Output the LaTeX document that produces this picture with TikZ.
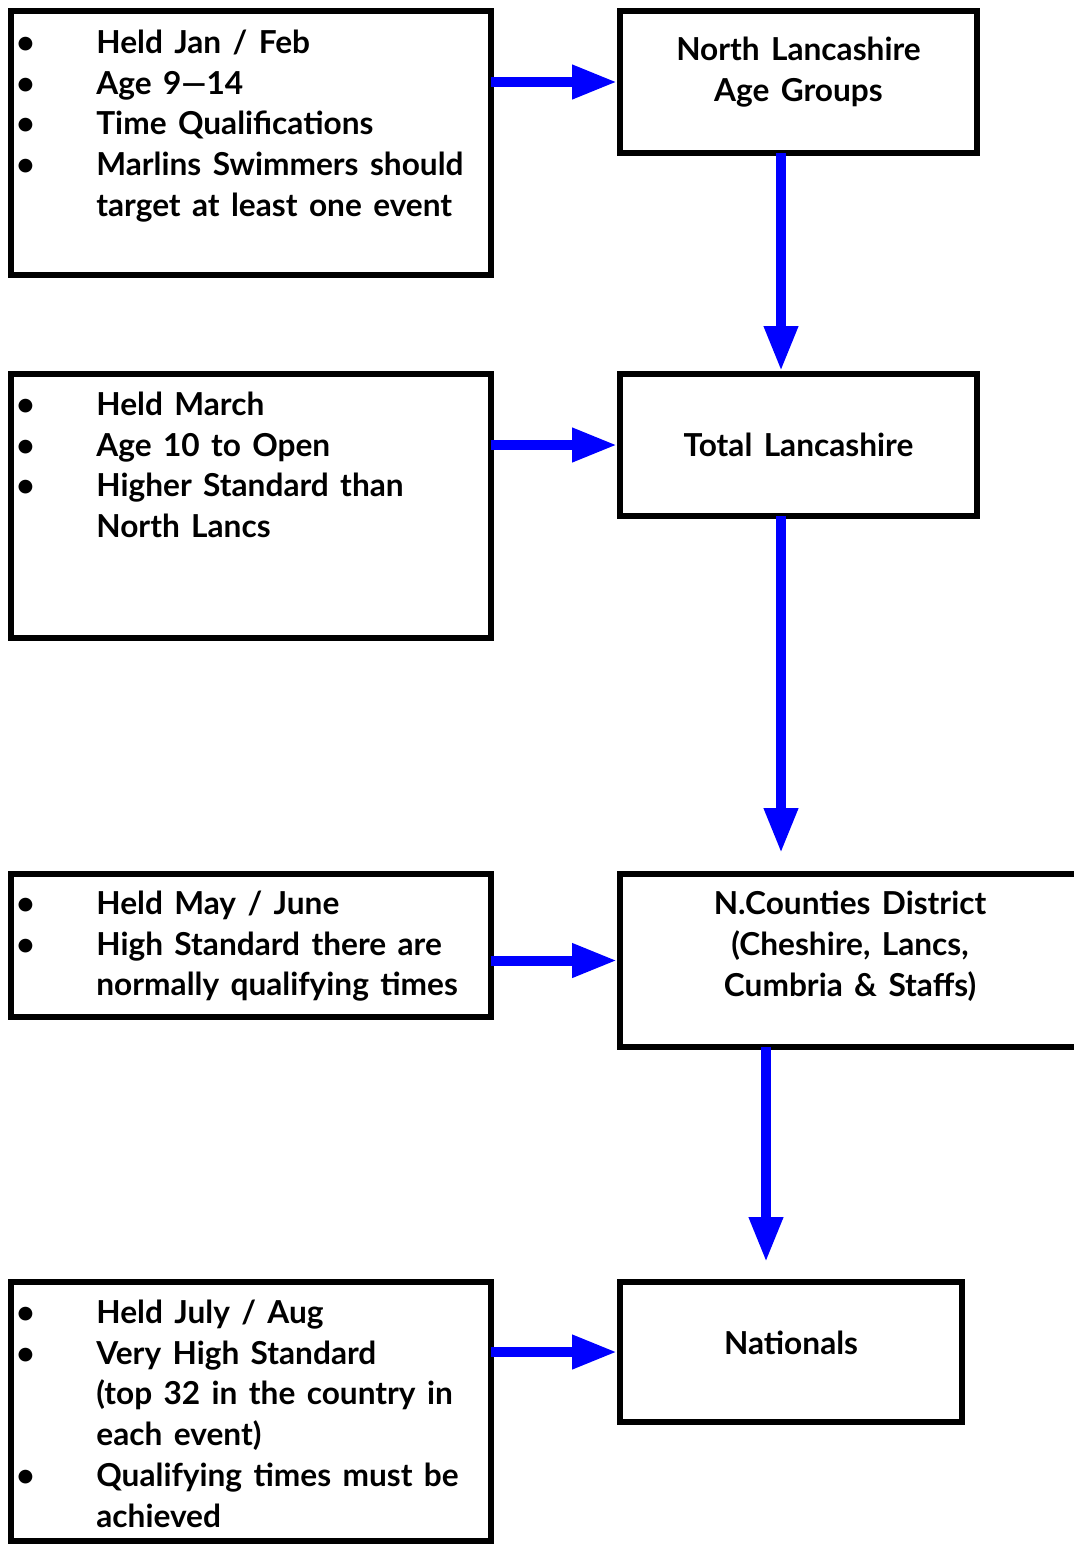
\documentclass[tikz,border=0pt]{standalone}
\usepackage{fontspec}
\setmainfont{Lato}
\usepackage{tikz}
\usetikzlibrary{arrows.meta}
\newcommand{\boxfont}{\bfseries\fontsize{18}{23.25}\selectfont\spaceskip=0.36em plus 0.1em minus 0.05em}
\tikzstyle{infobox} = [rectangle,draw=black,line width=0.12cm,fill=white,minimum width=9.6cm,inner sep=0pt,outer sep=0pt]
\tikzstyle{stagebox} = [rectangle,draw=black,line width=0.12cm,fill=white,inner sep=0pt,outer sep=0pt]
\tikzstyle{infotext} = [anchor=north west,align=left,inner sep=0pt,font=\boxfont]
\tikzstyle{stagetext} = [align=center,inner sep=0pt,font=\boxfont]
\tikzstyle{flow} = [blue,line width=0.2cm,-{Triangle[length=0.9cm,width=0.64cm]}]
\newcommand{\bitem}{\makebox[1.6cm][l]{•}\strut}
\newcommand{\bcont}{\hspace*{1.6cm}\strut}

\begin{document}
\begin{tikzpicture}[x=0.02cm,y=-0.02cm]
\useasboundingbox (0,0) rectangle (1074,1545);
\node (info1) [infobox,minimum height=5.28cm] at (251,143) {};
\node (nla) [stagebox,minimum width=7.14cm,minimum height=2.84cm] at (798.5,82) {};
\node (info2) [infobox,minimum height=5.28cm] at (251,506) {};
\node (tl) [stagebox,minimum width=7.14cm,minimum height=2.84cm] at (798.5,445) {};
\node (info3) [infobox,minimum height=2.86cm] at (251,945.5) {};
\node (ncd) [stagebox,minimum width=9.2cm,minimum height=3.46cm] at (850,960.5) {};
\node (info4) [infobox,minimum height=5.18cm] at (251,1411.5) {};
\node (nat) [stagebox,minimum width=6.84cm,minimum height=2.8cm] at (791,1352) {};

\node (info1txt) [infotext] at ([xshift=0.1cm,yshift=-0.266cm]info1.north west) {\bitem Held Jan / Feb\\ \bitem Age 9—14\\ \bitem Time Qualifications\\ \bitem Marlins Swimmers should\\ \bcont target at least one event};
\node (info2txt) [infotext] at ([xshift=0.1cm,yshift=-0.246cm]info2.north west) {\bitem Held March\\ \bitem Age 10 to Open\\ \bitem Higher Standard than\\ \bcont North Lancs};
\node (info3txt) [infotext] at ([xshift=0.1cm,yshift=-0.226cm]info3.north west) {\bitem Held May / June\\ \bitem High Standard there are\\ \bcont normally qualifying times};
\node (info4txt) [infotext] at ([xshift=0.1cm,yshift=-0.246cm]info4.north west) {\bitem Held July / Aug\\ \bitem Very High Standard\\ \bcont (top 32 in the country in\\ \bcont each event)\\ \bitem Qualifying times must be\\ \bcont achieved};

\node (nlatxt) [stagetext] at ([yshift=0.2cm]nla.center) {North Lancashire\\ Age Groups};
\node (tltxt) [stagetext] at (tl.center) {Total Lancashire};
\node (ncdtxt) [stagetext] at ([yshift=0.28cm]ncd.center) {N.Counties District\\ (Cheshire, Lancs,\\ Cumbria \& Staffs)};
\node (nattxt) [stagetext] at ([yshift=0.18cm]nat.center) {Nationals};

\coordinate (lane1) at (781,0);
\coordinate (lane2) at (766,0);
\draw [flow,shorten >=0.06cm] (info1.east |- nla.west) -- (nla.west);
\draw [flow,shorten >=0.06cm] (info2.east |- tl.west) -- (tl.west);
\draw [flow,shorten >=0.06cm] (info3.east |- ncd.west) -- (ncd.west);
\draw [flow,shorten >=0.06cm] (info4.east |- nat.west) -- (nat.west);
\draw [flow,shorten >=0.06cm] (nla.south -| lane1) -- (tl.north -| lane1);
\draw [flow,shorten >=0.42cm] (tl.south -| lane1) -- (ncd.north -| lane1);
\draw [flow,shorten >=0.4cm] (ncd.south -| lane2) -- (nat.north -| lane2);
\end{tikzpicture}
\end{document}
